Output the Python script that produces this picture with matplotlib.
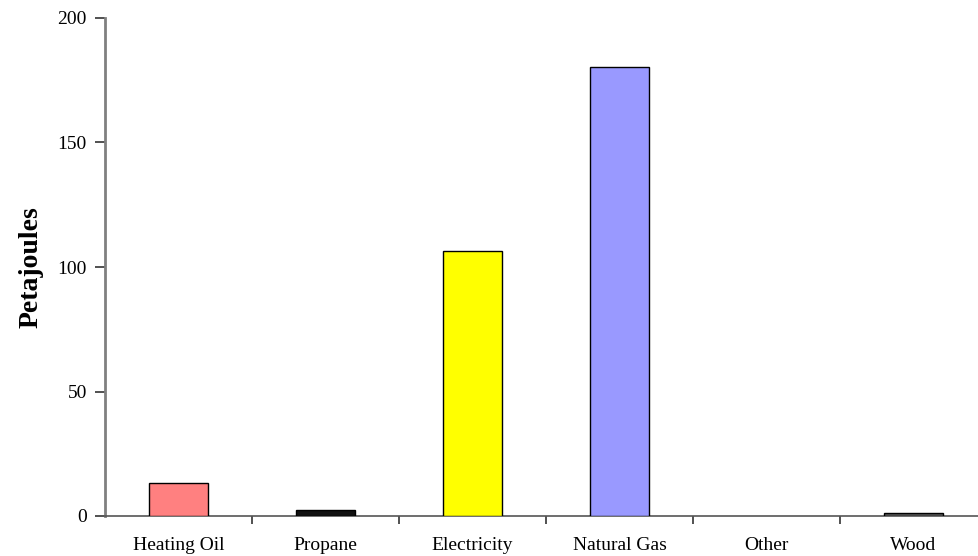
import matplotlib
matplotlib.use("Agg")
import matplotlib.pyplot as plt
import numpy as np

categories = ["Heating Oil", "Propane", "Electricity", "Natural Gas", "Other", "Wood"]
values = [13.4, 2.4, 106.4, 180.3, 0.0, 1.2]
colors = ["#FF8080", "#111111", "#FFFF00", "#9999FF", "#FFFFFF", "#555555"]
yticks = [0, 50, 100, 150, 200]

plt.rcParams['font.family'] = ['Liberation Serif', 'DejaVu Serif']

fig = plt.figure(figsize=(9.79, 5.56), dpi=100)
ax = fig.add_axes([105/979, 1-516/556, (987-105)/979, (516-18)/556])

x = np.arange(len(categories))
lws = [1.0 if v > 0 else 0.0 for v in values]
ax.bar(x, values, width=0.4, color=colors, edgecolor="#000000", linewidth=lws, zorder=3)

ax.set_xlim(-0.5, len(categories) - 0.5)
ax.set_ylim(0, 200)
ax.set_yticks(yticks)
ax.set_yticklabels([str(v) for v in yticks], fontsize=14)

ax.set_xticks(x)
ax.set_xticklabels(categories, fontsize=14)
ax.tick_params(axis='x', which='major', length=0, pad=15)
ax.set_xticks(np.arange(len(categories)) + 0.5, minor=True)
ax.tick_params(axis='x', which='minor', length=6, width=1.2, color="#333333", direction='out')
ax.tick_params(axis='y', length=7, width=1.2, color="#333333", direction='out', pad=6)

for s in ["top", "right"]:
    ax.spines[s].set_visible(False)
ax.spines["left"].set_color("#808080")
ax.spines["left"].set_linewidth(2)
ax.spines["bottom"].set_color("#555555")
ax.spines["bottom"].set_linewidth(1.2)

ax.set_ylabel("Petajoules", fontsize=20, fontweight='bold', labelpad=10)

fig.savefig("out.png", dpi=100)
